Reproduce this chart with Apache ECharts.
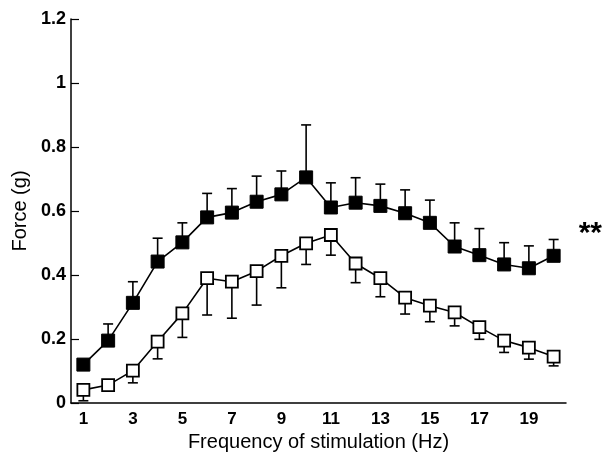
<!DOCTYPE html>
<html>
<head>
<meta charset="utf-8">
<script src="https://cdn.jsdelivr.net/npm/echarts@6/dist/echarts.min.js"></script>
<style>
  html, body { margin: 0; padding: 0; background: #fff; }
  #chart { width: 605px; height: 461px; }
</style>
</head>
<body>
<div id="chart"></div>
<script>
// stimulation frequency (Hz)
var freqs = ['1','2','3','4','5','6','7','8','9','10','11','12','13','14','15','16','17','18','19','20'];

// filled squares: mean force (g) and upper error bar
var filledMean = [0.12, 0.195, 0.313, 0.442, 0.502, 0.58, 0.595, 0.629, 0.652, 0.705, 0.611, 0.626, 0.616, 0.593, 0.563, 0.489, 0.462, 0.433, 0.421, 0.46];
var filledTop  = [0.12, 0.247, 0.379, 0.515, 0.563, 0.655, 0.67, 0.709, 0.725, 0.869, 0.688, 0.704, 0.684, 0.666, 0.634, 0.563, 0.545, 0.501, 0.491, 0.511];

// open squares: mean force (g) and lower error bar
var openMean = [0.041, 0.056, 0.101, 0.192, 0.28, 0.39, 0.379, 0.412, 0.46, 0.499, 0.525, 0.436, 0.39, 0.329, 0.304, 0.283, 0.237, 0.195, 0.173, 0.145];
var openLow  = [0.007, 0.04, 0.063, 0.138, 0.205, 0.275, 0.265, 0.306, 0.36, 0.433, 0.462, 0.376, 0.332, 0.278, 0.254, 0.241, 0.199, 0.158, 0.137, 0.116];

var chart = echarts.init(document.getElementById('chart'));

function errorBars(means, ends) {
    var data = [];
    for (var i = 0; i < means.length; i++) {
        data.push([i, means[i], ends[i]]);
    }
    return {
        type: 'custom',
        silent: true,
        z: 1,
        renderItem: function (params, api) {
            var p0 = api.coord([api.value(0), api.value(1)]);
            var p1 = api.coord([api.value(0), api.value(2)]);
            var half = 5;
            var st = { stroke: '#000', lineWidth: 1.6 };
            return {
                type: 'group',
                children: [
                    { type: 'line', shape: { x1: p0[0], y1: p0[1], x2: p1[0], y2: p1[1] }, style: st },
                    { type: 'line', shape: { x1: p1[0] - half, y1: p1[1], x2: p1[0] + half, y2: p1[1] }, style: st }
                ]
            };
        },
        data: data
    };
}

var filledData = filledMean.map(function (v, i) {
    if (i === filledMean.length - 1) {
        return {
            value: v,
            label: {
                show: true, formatter: '**', position: 'right',
                offset: [13, -22], color: '#000',
                fontSize: 30, fontWeight: 'bold', fontFamily: 'Liberation Sans'
            }
        };
    }
    return v;
});

var option = {
    animation: false,
    backgroundColor: '#fff',
    grid: { left: 71, right: 39, top: 19, bottom: 58 },
    xAxis: {
        type: 'category',
        data: freqs,
        boundaryGap: true,
        name: 'Frequency of stimulation (Hz)',
        nameLocation: 'middle',
        nameGap: 25,
        nameTextStyle: { fontSize: 20, color: '#000', fontFamily: 'Liberation Sans' },
        axisLine: { lineStyle: { color: '#000', width: 1.5 } },
        axisTick: { alignWithLabel: true, inside: true, length: 5, interval: 0, lineStyle: { color: '#000', width: 1.2 } },
        axisLabel: { interval: 1, color: '#000', fontSize: 17, fontWeight: 'bold', margin: 8, fontFamily: 'Liberation Sans' },
        splitLine: { show: false }
    },
    yAxis: {
        type: 'value',
        min: 0,
        max: 1.2,
        interval: 0.2,
        name: 'Force (g)',
        nameLocation: 'middle',
        nameGap: 40,
        nameTextStyle: { fontSize: 20, color: '#000', fontFamily: 'Liberation Sans' },
        axisLine: { show: true, lineStyle: { color: '#000', width: 1.5 } },
        axisTick: { show: true, inside: true, length: 8, lineStyle: { color: '#000', width: 1.2 } },
        axisLabel: { color: '#000', fontSize: 18, fontWeight: 'bold', margin: 5, fontFamily: 'Liberation Sans' },
        splitLine: { show: false }
    },
    series: [
        errorBars(filledMean, filledTop),
        errorBars(openMean, openLow),
        {
            name: 'filled',
            type: 'line',
            data: filledData,
            symbol: 'rect',
            symbolSize: 13,
            z: 3,
            lineStyle: { color: '#000', width: 1.6 },
            itemStyle: { color: '#000', borderColor: '#000', borderWidth: 1 }
        },
        {
            name: 'open',
            type: 'line',
            data: openMean,
            symbol: 'rect',
            symbolSize: 12,
            z: 3,
            lineStyle: { color: '#000', width: 1.6 },
            itemStyle: { color: '#fff', borderColor: '#000', borderWidth: 1.8 }
        }
    ]
};

chart.setOption(option);
</script>
</body>
</html>
